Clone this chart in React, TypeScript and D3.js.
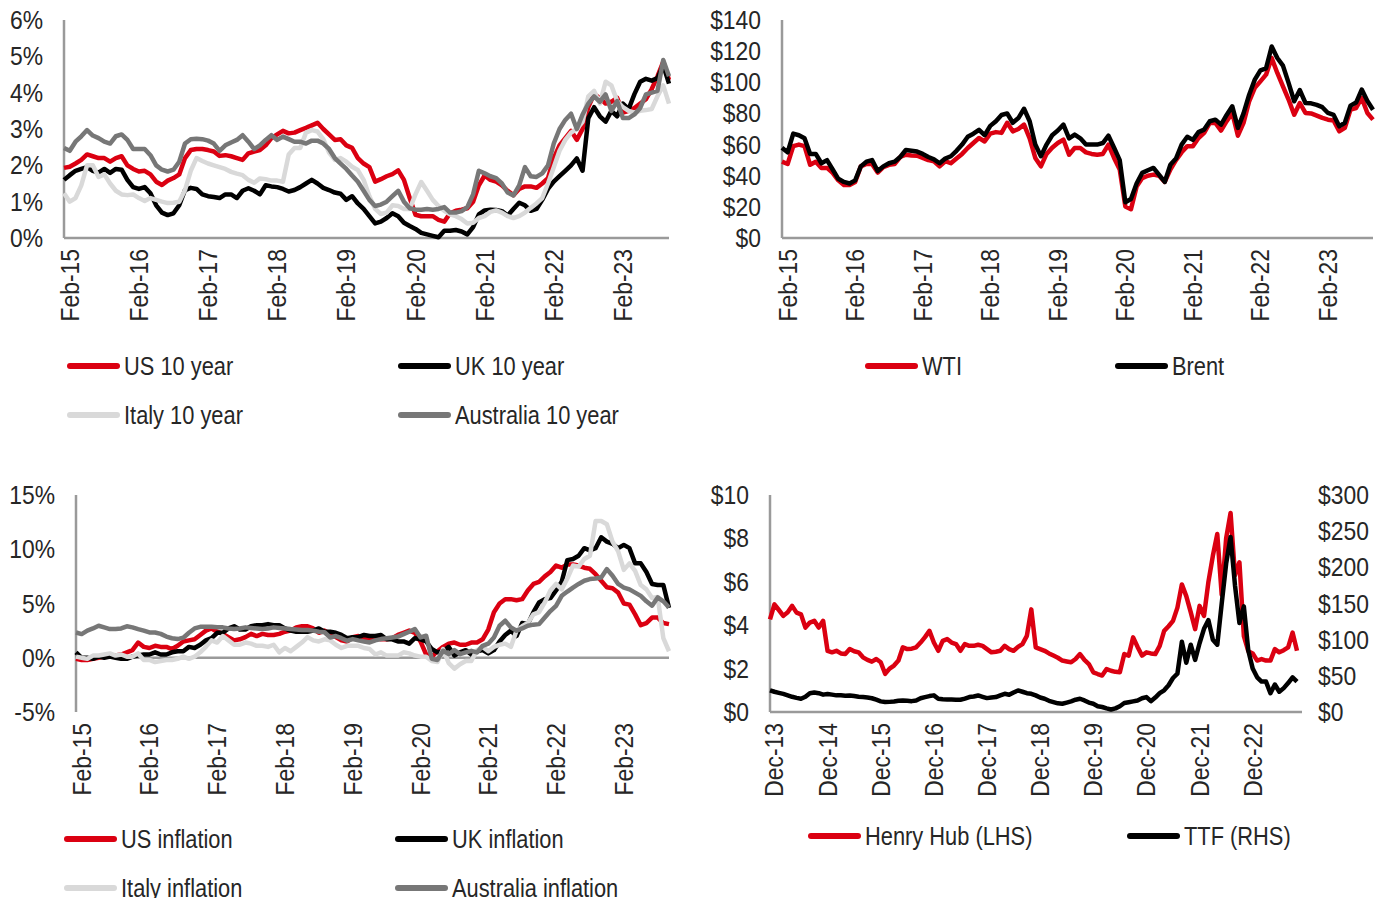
import React from 'react';
import * as d3 from 'd3';

// ---------- labels & ticks ----------
const FEB_LABELS = ['Feb-15', 'Feb-16', 'Feb-17', 'Feb-18', 'Feb-19', 'Feb-20', 'Feb-21', 'Feb-22', 'Feb-23'];
const DEC_LABELS = ['Dec-13', 'Dec-14', 'Dec-15', 'Dec-16', 'Dec-17', 'Dec-18', 'Dec-19', 'Dec-20', 'Dec-21', 'Dec-22'];
const YIELD_TICKS = [0, 1, 2, 3, 4, 5, 6];
const OIL_TICKS = [0, 20, 40, 60, 80, 100, 120, 140];
const INF_TICKS = [-5, 0, 5, 10, 15];
const HH_TICKS = [0, 2, 4, 6, 8, 10];
const TTF_TICKS = [0, 50, 100, 150, 200, 250, 300];

// ---------- 10-year yields (%) monthly ----------
const US10 = [1.93,1.96,2.05,2.15,2.3,2.25,2.2,2.2,2.1,2.2,
2.25,2.0,1.9,1.83,1.85,1.75,1.55,1.46,1.58,1.65,
1.75,2.2,2.42,2.45,2.45,2.42,2.38,2.26,2.28,2.25,
2.2,2.15,2.33,2.38,2.42,2.55,2.75,2.85,2.95,2.88,
2.9,2.97,3.03,3.1,3.17,3.0,2.85,2.7,2.72,2.55,
2.48,2.2,2.05,1.95,1.55,1.62,1.7,1.76,1.86,1.6,
1.1,0.64,0.6,0.6,0.6,0.5,0.45,0.68,0.75,0.78,
0.82,1.0,1.45,1.72,1.6,1.55,1.45,1.3,1.18,1.35,
1.42,1.42,1.38,1.5,1.65,2.2,2.55,2.75,2.95,2.7,
3.0,3.6,3.96,3.85,3.7,3.75,3.86,3.45,3.5,3.58,
3.7,3.82,4.1,4.45,4.85,4.35];
const UK10 = [1.6,1.73,1.85,1.9,1.95,1.85,1.8,1.9,1.79,1.9,
1.88,1.6,1.4,1.35,1.4,1.23,0.9,0.7,0.63,0.68,
0.9,1.32,1.38,1.35,1.2,1.15,1.13,1.1,1.2,1.2,
1.1,1.3,1.37,1.3,1.2,1.45,1.42,1.4,1.35,1.28,
1.32,1.4,1.5,1.6,1.5,1.38,1.32,1.25,1.22,1.05,
1.15,0.95,0.8,0.6,0.4,0.45,0.55,0.68,0.6,0.42,
0.33,0.25,0.14,0.1,0.06,0.02,0.2,0.2,0.22,0.18,
0.1,0.3,0.65,0.76,0.78,0.77,0.74,0.62,0.8,0.97,
0.9,0.75,0.8,1.05,1.35,1.55,1.7,1.85,2.0,2.19,
1.85,3.3,3.6,3.35,3.2,3.5,3.35,3.7,3.55,3.96,
4.3,4.38,4.33,4.4,4.75,4.25];
const ITALY10 = [1.23,1.0,1.1,1.45,2.0,2.0,1.68,1.75,1.5,1.3,
1.2,1.18,1.2,1.1,1.02,1.1,1.05,1.0,0.96,0.97,
1.0,1.32,1.85,2.2,2.12,2.05,2.0,1.95,1.9,1.82,
1.77,1.73,1.6,1.52,1.64,1.62,1.58,1.58,1.55,2.3,
2.48,2.48,2.9,2.97,2.93,2.72,2.35,2.15,2.2,2.1,
1.96,1.87,1.6,1.15,0.8,0.66,0.7,0.9,0.88,0.8,
0.8,1.2,1.54,1.3,1.05,0.88,0.75,0.65,0.6,0.52,
0.4,0.42,0.55,0.6,0.72,0.76,0.7,0.6,0.55,0.6,
0.7,0.83,0.95,1.1,1.5,1.95,2.4,2.7,2.9,3.0,
3.2,3.9,4.05,3.7,4.3,4.2,3.77,3.6,3.5,3.45,
3.5,3.52,3.55,3.9,4.2,3.7];
const AUS10 = [2.48,2.4,2.65,2.8,2.97,2.82,2.75,2.65,2.6,2.8,
2.85,2.7,2.45,2.45,2.45,2.28,2.0,1.88,1.83,1.88,
2.1,2.6,2.72,2.73,2.72,2.68,2.6,2.4,2.55,2.63,
2.7,2.83,2.65,2.45,2.55,2.7,2.83,2.7,2.79,2.72,
2.65,2.65,2.6,2.68,2.68,2.6,2.45,2.2,2.05,1.9,
1.72,1.55,1.3,1.05,0.88,0.92,1.0,1.15,1.3,1.0,
0.82,0.78,0.78,0.8,0.78,0.8,0.85,0.7,0.7,0.74,
0.85,1.2,1.85,1.78,1.7,1.65,1.5,1.25,1.17,1.45,
1.95,1.7,1.68,1.78,2.0,2.6,3.0,3.25,3.42,3.0,
3.4,3.7,3.9,3.75,3.95,3.5,3.77,3.3,3.3,3.4,
3.58,3.95,4.0,4.05,4.9,4.45];

// ---------- oil ($/bbl) monthly ----------
const WTI = [49,47.5,59,60,59,47,49,45,45,41.8,
37,34,34,36,46,47.5,47.5,42,45.5,47,
47.5,52,53.5,53,52.9,51.5,50,49.3,46,49.3,
48,51,54,57.8,61,64.2,62,67,68,67.5,
74,68.5,70,72.8,64,51.4,46,54,58,61,
63.2,53.5,57.8,57.8,55,54,53.5,54,60,51.4,
44,20.3,18.5,33,38.5,40,40.7,40,36,44,
50,55,59,59,64.2,67.5,73.9,73.9,69,75,
80.3,65.7,73.9,87.8,96.4,100.6,104.9,115.6,106,97.4,
88.9,79.2,86.7,80.3,80,78.6,77.1,76,75.5,68.5,
70.7,82.4,83.5,90,80.3,76];
const BRENT = [58,55,67,66,64,54,54,48,50,44,
38,36,35,37,46,49,50,43,46,48,
49,52,56.5,56,55.5,54,52,50.5,48,51,
52.5,56,60,65,67,69.5,66,72,75,79,
80,74,77,83,75,60,52.5,60,66,69,
72.8,64,66.4,64,60,60,60,61,65.7,58,
50,23,25,35,41.8,43.5,45,40.5,36,47,
51,60,65,63,68,69.6,75,76,72.8,79,
84.6,70.7,80,92,101.7,107.7,109,123,115.6,110.7,
99.6,87.8,95,86.7,86.5,85.5,84,80.3,79,71.7,
74,85,87,95.3,88,82.4];

// ---------- inflation (% y/y) monthly ----------
const US_INF = [-0.1,-0.2,-0.2,-0.1,0.0,0.1,0.2,0.2,0.3,0.5,0.7,
1.4,1.0,0.9,1.1,1.0,1.0,0.8,1.1,1.5,1.6,1.7,2.1,
2.5,2.7,2.4,2.2,1.9,1.6,1.7,1.9,2.2,2.0,2.2,2.1,
2.1,2.2,2.4,2.5,2.8,2.9,2.9,2.7,2.3,2.5,2.2,1.9,
1.6,1.5,1.9,2.0,1.8,1.6,1.8,1.7,1.7,1.8,2.1,2.3,
2.5,2.3,1.5,0.3,0.1,0.6,1.0,1.3,1.4,1.2,1.2,1.4,
1.4,1.7,2.6,4.2,5.0,5.4,5.4,5.3,5.4,6.2,6.8,7.0,
7.5,7.9,8.5,8.3,8.6,8.6,8.5,8.3,8.2,7.7,7.1,6.5,
6.4,6.0,5.0,4.9,4.0,3.0,3.2,3.7,3.7,3.2,3.1];
const UK_INF = [0.5,0.0,0.0,-0.1,0.1,0.0,0.1,0.0,-0.1,-0.1,0.1,0.2,
0.3,0.3,0.5,0.3,0.3,0.5,0.6,0.6,1.0,0.9,1.2,1.6,
1.8,2.3,2.3,2.7,2.9,2.6,2.6,2.9,3.0,3.0,3.1,3.0,
3.0,2.7,2.5,2.4,2.4,2.4,2.5,2.7,2.4,2.4,2.3,2.1,
1.8,1.9,1.9,2.1,2.0,2.0,2.1,1.7,1.7,1.5,1.5,1.3,
1.8,1.7,1.5,0.8,0.5,0.6,1.0,0.2,0.5,0.7,0.3,0.6,
0.7,0.4,0.7,1.5,2.1,2.5,2.0,3.2,3.1,4.2,5.1,5.4,
5.5,6.2,7.0,9.0,9.1,9.4,10.1,9.9,10.1,11.1,10.7,10.5,
10.1,10.4,10.1,8.7,8.7,7.9,6.8,6.7,6.7,4.6];
const ITALY_INF = [0.1,0.0,-0.1,0.2,0.2,0.3,0.4,0.2,0.3,0.1,0.1,
0.4,-0.2,-0.2,-0.4,-0.3,-0.2,-0.2,-0.1,0.1,-0.1,0.1,0.5,
1.0,1.6,1.4,2.0,1.6,1.2,1.2,1.4,1.3,1.1,1.1,1.0,
1.2,0.5,0.9,0.6,1.0,1.4,1.9,1.6,1.5,1.7,1.6,1.2,
0.9,1.1,1.1,1.1,0.9,0.8,0.3,0.5,0.2,0.2,0.2,0.5,
0.4,0.2,0.1,0.1,-0.3,-0.4,0.8,-0.5,-1.0,-0.6,-0.3,-0.3,
0.7,1.0,0.6,1.0,1.2,1.3,1.0,2.5,2.9,3.2,4.0,4.2,
5.1,6.2,6.8,6.3,7.3,8.5,8.4,9.1,9.4,12.6,12.6,12.3,
10.7,9.8,8.1,8.7,8.0,6.7,6.3,5.5,5.6,1.8,0.6];
const AUS_INF = [2.33,2.18,2.5,2.7,2.95,2.8,2.64,2.64,2.7,2.9,
2.8,2.64,2.5,2.33,2.33,2.2,1.95,1.8,1.72,1.85,
2.3,2.7,2.85,2.85,2.85,2.82,2.8,2.7,2.64,2.7,
2.8,2.75,2.7,2.64,2.7,2.8,2.75,2.7,2.64,2.6,
2.55,2.55,2.5,2.4,2.35,1.87,2.0,1.8,1.57,1.72,
1.6,1.5,1.41,1.6,1.72,1.8,1.87,1.95,2.18,2.4,
2.64,1.87,2.03,-0.1,-0.2,0.64,0.33,0.7,0.33,0.5,
0.64,0.49,1.1,1.3,1.87,2.95,3.41,2.8,2.49,2.7,
2.95,3.05,3.1,3.71,4.3,4.79,5.71,6.1,6.47,6.8,
7.1,7.25,7.3,7.4,8.17,7.56,6.8,6.47,6.3,6.0,
5.7,5.2,4.8,5.56,5.2,4.63];

// ---------- gas ----------
const HENRY_HUB = [4.27,4.96,4.7,4.43,4.6,4.89,4.58,4.5,3.89,4.12,
4.2,3.89,4.2,2.82,2.75,2.82,2.7,2.67,2.9,2.8,
2.75,2.52,2.4,2.32,2.44,2.29,1.76,2.0,2.14,2.37,
2.98,2.9,2.92,2.98,3.2,3.45,3.74,3.2,2.82,3.28,
3.36,3.2,3.13,2.82,3.13,3.05,3.05,3.1,3.05,2.9,
2.75,2.78,2.82,3.05,2.9,2.82,3.0,3.13,3.51,4.73,
2.98,2.9,2.82,2.7,2.6,2.5,2.37,2.33,2.29,2.44,
2.67,2.4,2.21,1.83,1.75,1.68,1.98,1.9,1.85,1.83,
2.67,2.6,3.44,3.0,2.6,2.75,2.7,2.67,3.05,3.74,
3.95,4.2,4.81,5.88,5.34,4.6,3.82,4.89,4.43,6.0,
7.2,8.2,5.4,8.0,9.17,6.3,6.9,3.5,2.8,2.7,
2.37,2.44,2.37,2.37,2.9,2.75,2.85,2.98,3.66,2.82];
const TTF = [30,28,26.5,25,23,21,19.5,18.3,21,26,
27,26,24,25,24,23,23,22.5,22.9,22,
21,20.6,20,19,17,14.7,13.7,14,14.5,15.5,
16,15.5,15,16,19,20.6,22,23,18.3,17.5,
17.4,17.2,17,17,18.5,20.6,21.5,22.9,21,19.2,
20,20.6,23,25.2,23.8,27,29.8,28,26,25.2,
23,20,18.3,15.5,13.7,12,11.4,13,14.7,17,
18.3,16,13,11.4,8,6.9,5,3.5,5,8,
12.4,13.5,14.7,16,19,20.6,15,20,26,30,
37,47,53,97,68,93,72,95,115,127,
100,93,150,205,242,175,123,146,85,60,
48,42,42,26,38,28,33,40,48,42];

// ---------- styling ----------
const RED = '#DB0011';
const BLACK = '#000000';
const LIGHT = '#D9D9D9';
const GREY = '#777777';
const AXIS = '#9A9A9A';
const TEXT = '#262626';
const FONT = "'Liberation Sans', Arial, sans-serif";
const FS = 26;

type TProps = { x: number; y: number; anchor?: 'start' | 'end' | 'middle'; rotate?: number; sx?: number; children: string };
function T({ x, y, anchor = 'start', rotate = 0, sx = 0.84, children }: TProps) {
  return (
    <text transform={`translate(${x},${y}) rotate(${rotate}) scale(${sx},1)`} textAnchor={anchor}
      dominantBaseline="central" fontFamily={FONT} fontSize={FS} fill={TEXT}>{children}</text>
  );
}

type Series = { name: string; values: number[]; color: string; right?: boolean };
type LegendPos = { x: number; y: number };

type PanelProps = {
  x0: number; x1: number; axisEnd: number; yTop: number; yBottom: number;
  domain: [number, number]; ticks: number[]; fmt: (v: number) => string;
  baseValue: number; labels: string[];
  rightDomain?: [number, number]; rightTicks?: number[]; rightFmt?: (v: number) => string;
  series: Series[]; legend: LegendPos[];
};

function Panel(p: PanelProps) {
  const n = p.series[0].values.length;
  const x = d3.scaleLinear().domain([0, n - 1]).range([p.x0, p.x1]);
  const y = d3.scaleLinear().domain(p.domain).range([p.yBottom, p.yTop]);
  const yR = p.rightDomain ? d3.scaleLinear().domain(p.rightDomain).range([p.yBottom, p.yTop]) : null;
  const base = y(p.baseValue);
  return (
    <g>
      {p.ticks.map((t) => (
        <T key={'t' + t} x={p.x0 - 21} y={y(t)} anchor="end" sx={0.88}>{p.fmt(t)}</T>
      ))}
      {yR && p.rightTicks && p.rightFmt && p.rightTicks.map((t) => (
        <T key={'r' + t} x={p.axisEnd + 16} y={yR(t)} sx={0.88}>{p.rightFmt!(t)}</T>
      ))}
      <line x1={p.x0} x2={p.x0} y1={p.yTop} y2={p.yBottom} stroke={AXIS} strokeWidth={2.5} />
      <line x1={p.x0} x2={p.axisEnd} y1={base} y2={base} stroke={AXIS} strokeWidth={2.5} />
      {p.series.map((s) => {
        const sy = s.right && yR ? yR : y;
        const gen = d3.line<number>().x((_, i) => x(i)).y((v) => sy(v));
        return <path key={s.name} d={gen(s.values) || ''} fill="none" stroke={s.color}
          strokeWidth={4.5} strokeLinejoin="round" strokeLinecap="butt" />;
      })}
      {p.labels.map((l, k) => (
        <T key={l} x={x(1 + 12 * k)} y={p.yBottom + 11} anchor="end" rotate={-90} sx={0.88}>{l}</T>
      ))}
      {p.series.map((s, i) => {
        const lp = p.legend[i];
        return (
          <g key={'lg' + s.name}>
            <line x1={lp.x + 3} x2={lp.x + 50} y1={lp.y} y2={lp.y} stroke={s.color} strokeWidth={6} strokeLinecap="round" />
            <T x={lp.x + 57} y={lp.y}>{s.name}</T>
          </g>
        );
      })}
    </g>
  );
}

const pct = (v: number) => `${v}%`;
const usd = (v: number) => `$${v}`;

export default function App() {
  return (
    <svg width={1385} height={898} style={{ position: 'absolute', left: 0, top: 0, background: '#fff' }}>
      <Panel x0={64} x1={669} axisEnd={669} yTop={20} yBottom={238} domain={[0, 6]} ticks={YIELD_TICKS}
        fmt={pct} baseValue={0} labels={FEB_LABELS}
        series={[
          { name: 'US 10 year', values: US10, color: RED },
          { name: 'UK 10 year', values: UK10, color: BLACK },
          { name: 'Italy 10 year', values: ITALY10, color: LIGHT },
          { name: 'Australia 10 year', values: AUS10, color: GREY },
        ]}
        legend={[{ x: 67, y: 366 }, { x: 398, y: 366 }, { x: 67, y: 415 }, { x: 398, y: 415 }]} />
      <Panel x0={782} x1={1373} axisEnd={1373} yTop={20} yBottom={238} domain={[0, 140]} ticks={OIL_TICKS}
        fmt={usd} baseValue={0} labels={FEB_LABELS}
        series={[
          { name: 'WTI', values: WTI, color: RED },
          { name: 'Brent', values: BRENT, color: BLACK },
        ]}
        legend={[{ x: 865, y: 366 }, { x: 1115, y: 366 }]} />
      <Panel x0={76} x1={669} axisEnd={669} yTop={495} yBottom={712} domain={[-5, 15]} ticks={INF_TICKS}
        fmt={pct} baseValue={0} labels={FEB_LABELS}
        series={[
          { name: 'US inflation', values: US_INF, color: RED },
          { name: 'UK inflation', values: UK_INF, color: BLACK },
          { name: 'Italy inflation', values: ITALY_INF, color: LIGHT },
          { name: 'Australia inflation', values: AUS_INF, color: GREY },
        ]}
        legend={[{ x: 64, y: 839 }, { x: 395, y: 839 }, { x: 64, y: 888 }, { x: 395, y: 888 }]} />
      <Panel x0={770} x1={1297} axisEnd={1302} yTop={495} yBottom={712} domain={[0, 10]} ticks={HH_TICKS}
        fmt={usd} baseValue={0} labels={DEC_LABELS}
        rightDomain={[0, 300]} rightTicks={TTF_TICKS} rightFmt={usd}
        series={[
          { name: 'Henry Hub (LHS)', values: HENRY_HUB, color: RED },
          { name: 'TTF (RHS)', values: TTF, color: BLACK, right: true },
        ]}
        legend={[{ x: 808, y: 836 }, { x: 1127, y: 836 }]} />
    </svg>
  );
}
